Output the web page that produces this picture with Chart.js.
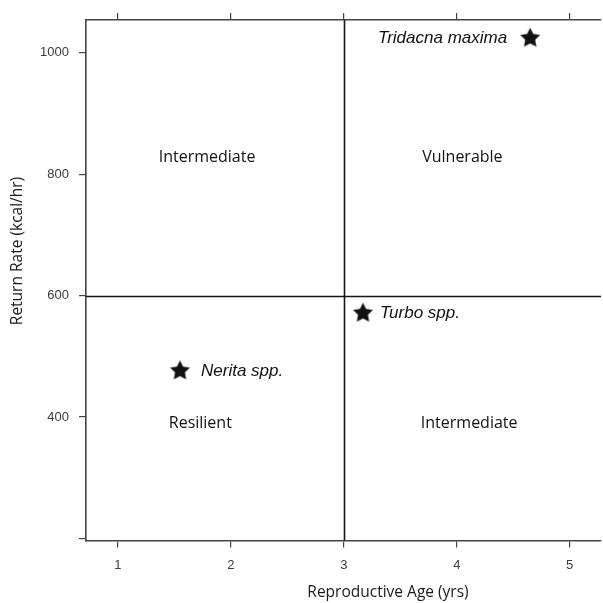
<!DOCTYPE html>
<html>
<head>
<meta charset="utf-8">
<script src="https://cdn.jsdelivr.net/npm/chart.js@4.4.1/dist/chart.umd.min.js"></script>
<style>
  html, body { margin: 0; padding: 0; background: #fff; overflow: hidden; width: 603px; height: 603px; }
  #wrap { position: relative; width: 612px; height: 603px; }
  canvas { display: block; }
</style>
</head>
<body>
<div id="wrap"><canvas id="chart" width="612" height="603"></canvas></div>
<script>
// Taxa plotted by reproductive age and foraging return rate
const species = ['Tridacna maxima', 'Turbo spp.', 'Nerita spp.'];
const reproductiveAge = [4.65, 3.17, 1.55];   // yrs
const returnRate = [1024, 571, 476];          // kcal/hr

// Quadrant classes and where their names sit
const quadrantNames = ['Intermediate', 'Vulnerable', 'Resilient', 'Intermediate'];
const quadrantAge = [1.79, 4.05, 1.73, 4.11];
const quadrantRate = [827, 827, 390, 390];

// Thresholds dividing the quadrants
const ageThreshold = 3;
const rateThreshold = 600;

// Axis ticks
const xTicks = [1, 2, 3, 4, 5];
const yTicks = [200, 400, 600, 800, 1000];
const yTickLabels = ['', '400', '600', '800', '1000'];

const X_MIN = 0.718, X_MAX = 5.277;
const Y_MIN = 196.6, Y_MAX = 1053.9;

const AXIS = '#454545';
const INK = '#151515';

function makeStar(r) {
  const s = Math.ceil(r * 2 + 2);
  const c = document.createElement('canvas');
  c.width = s; c.height = s;
  const g = c.getContext('2d');
  g.fillStyle = '#111';
  g.beginPath();
  for (let i = 0; i < 10; i++) {
    const rad = i % 2 ? r * 0.5 : r;
    const a = -Math.PI / 2 + i * Math.PI / 5;
    const px = s / 2 + rad * Math.cos(a), py = s / 2 + rad * Math.sin(a);
    if (i) g.lineTo(px, py); else g.moveTo(px, py);
  }
  g.closePath();
  g.fill();
  return c;
}
const star = makeStar(10.5);

// Label placement beside each star (side, gap in px)
const labelSide = ['left', 'right', 'right'];
const labelGap = [23, 17, 21];

const thresholdLines = {
  id: 'thresholdLines',
  beforeDatasetsDraw(chart) {
    const { ctx, chartArea: a, scales: { x, y } } = chart;
    const px = Math.round(x.getPixelForValue(ageThreshold)) + 0.5;
    const py = Math.round(y.getPixelForValue(rateThreshold)) + 0.5;
    ctx.save();
    ctx.strokeStyle = INK;
    ctx.lineWidth = 1.6;
    ctx.beginPath();
    ctx.moveTo(px, a.top); ctx.lineTo(px, a.bottom);
    ctx.moveTo(a.left, py); ctx.lineTo(a.right, py);
    ctx.stroke();
    ctx.restore();
  }
};

const textLayer = {
  id: 'textLayer',
  afterDatasetsDraw(chart) {
    const { ctx, chartArea: a, scales: { x, y } } = chart;
    ctx.save();
    // quadrant names
    ctx.fillStyle = '#111';
    ctx.font = '16px "Open Sans", sans-serif';
    ctx.textAlign = 'center';
    ctx.textBaseline = 'middle';
    quadrantNames.forEach((n, i) => {
      ctx.fillText(n, x.getPixelForValue(quadrantAge[i]), y.getPixelForValue(quadrantRate[i]));
    });
    // species names
    ctx.font = 'italic 17px "Liberation Sans", Arial, sans-serif';
    ctx.fillStyle = '#111';
    species.forEach((n, i) => {
      const px = x.getPixelForValue(reproductiveAge[i]);
      const py = y.getPixelForValue(returnRate[i]);
      if (labelSide[i] === 'left') {
        ctx.textAlign = 'right';
        ctx.fillText(n, px - labelGap[i], py);
      } else {
        ctx.textAlign = 'left';
        ctx.fillText(n, px + labelGap[i], py);
      }
    });
    // axis titles
    ctx.fillStyle = '#1a1a1a';
    ctx.font = '15.5px "Open Sans", sans-serif';
    ctx.textAlign = 'center';
    ctx.textBaseline = 'middle';
    ctx.fillText('Reproductive Age (yrs)', a.left + 302, 593);
    ctx.translate(18, a.top + 231);
    ctx.rotate(-Math.PI / 2);
    ctx.fillText('Return Rate (kcal/hr)', 0, 0);
    ctx.restore();
  }
};

const gridCommon = {
  display: true,
  drawOnChartArea: false,
  drawTicks: true,
  tickLength: 7,
  color: AXIS,
  lineWidth: 1.2
};
const borderCommon = { display: true, color: AXIS, width: 1.6 };

new Chart(document.getElementById('chart'), {
  type: 'scatter',
  data: {
    datasets: [{
      label: 'Taxa',
      data: species.map((s, i) => ({ x: reproductiveAge[i], y: returnRate[i] })),
      pointStyle: star,
      pointRadius: 10,
      pointHoverRadius: 10
    }]
  },
  options: {
    responsive: false,
    animation: false,
    devicePixelRatio: 1,
    layout: { padding: { top: 20, left: 0, right: 8, bottom: 0 } },
    plugins: { legend: { display: false }, tooltip: { enabled: false } },
    scales: {
      x: {
        type: 'linear',
        position: 'bottom',
        min: X_MIN, max: X_MAX,
        afterBuildTicks: s => { s.ticks = xTicks.map(v => ({ value: v })); },
        afterFit: s => { s.height = 62.5; },
        ticks: {
          color: '#3a3a3a',
          font: { family: '"Liberation Sans", Arial, sans-serif', size: 13 },
          padding: 10,
          callback: v => String(v)
        },
        grid: gridCommon,
        border: borderCommon
      },
      xTop: {
        type: 'linear',
        position: 'top',
        min: X_MIN, max: X_MAX,
        afterBuildTicks: s => { s.ticks = xTicks.map(v => ({ value: v })); },
        afterFit: s => { s.height = 0; },
        ticks: { display: false },
        grid: gridCommon,
        border: borderCommon
      },
      y: {
        type: 'linear',
        position: 'left',
        min: Y_MIN, max: Y_MAX,
        afterBuildTicks: s => { s.ticks = yTicks.map(v => ({ value: v })); },
        afterFit: s => { s.width = 86; },
        ticks: {
          color: '#3a3a3a',
          font: { family: '"Liberation Sans", Arial, sans-serif', size: 13 },
          padding: 10,
          callback: v => yTickLabels[yTicks.indexOf(v)] ?? ''
        },
        grid: gridCommon,
        border: borderCommon
      }
    }
  },
  plugins: [thresholdLines, textLayer]
});
</script>
</body>
</html>
